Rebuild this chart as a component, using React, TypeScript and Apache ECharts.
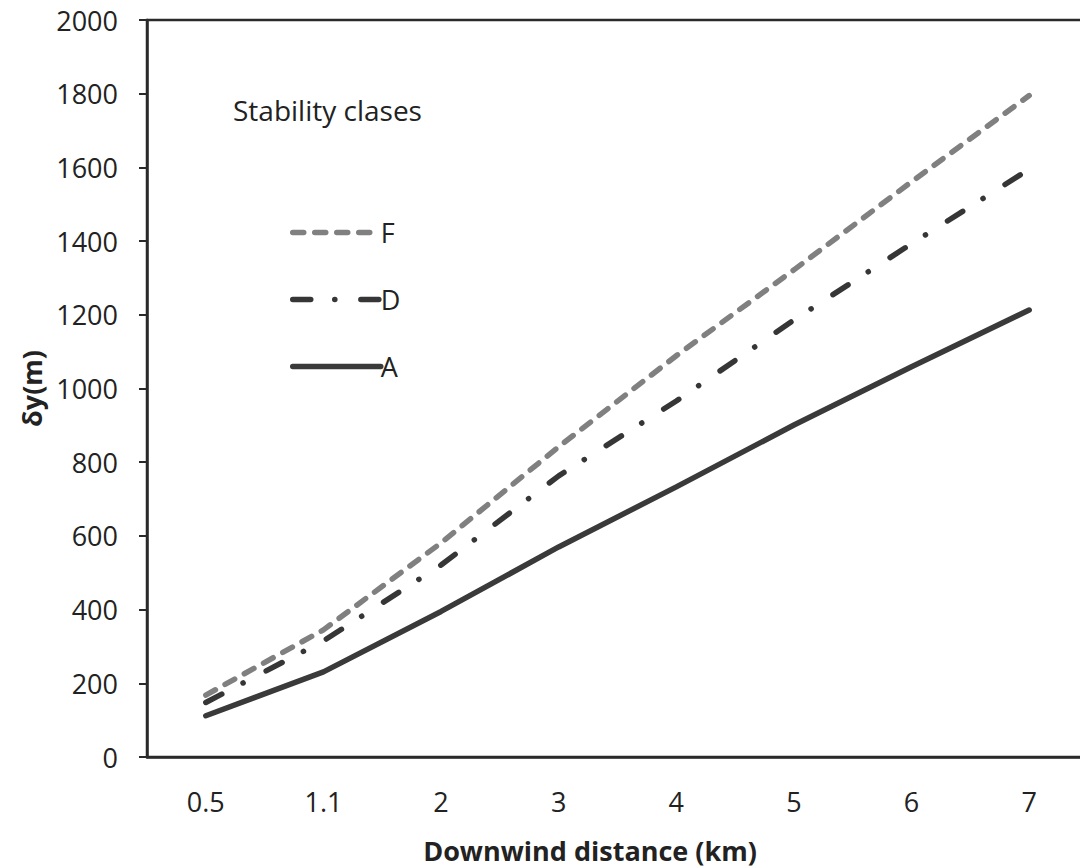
import React, { useEffect, useRef } from "react";
import * as echarts from "echarts";

const categories = ["0.5", "1.1", "2", "3", "4", "5", "6", "7"];
const seriesF = [168, 345, 581, 842, 1089, 1322, 1561, 1795];
const seriesD = [148, 315, 521, 763, 966, 1186, 1393, 1595];
const seriesA = [112, 231, 395, 570, 733, 901, 1059, 1213];
const yTicks = { min: 0, max: 2000, interval: 200 };

const FONT = "'Open Sans', Lato, sans-serif";
const FS = 27;

export default function App() {
  const ref = useRef<HTMLDivElement>(null);
  useEffect(() => {
    if (!ref.current) return;
    const chart = echarts.init(ref.current, undefined, { renderer: "svg" });
    chart.setOption({
      animation: false,
      backgroundColor: "#ffffff",
      textStyle: { fontFamily: FONT },
      grid: {
        left: 147,
        right: 0,
        top: 20,
        bottom: 111,
        show: true,
        borderColor: "#2a2a2a",
        borderWidth: 2.5,
      },
      legend: {
        show: true,
        orient: "vertical",
        left: 290,
        top: 219,
        padding: 0,
        itemWidth: 88,
        itemHeight: 14,
        itemGap: 40,
        data: ["F", "D", "A"],
        itemStyle: { opacity: 0 },
        lineStyle: { width: 5.5, cap: "round" },
        textStyle: { fontFamily: FONT, fontSize: FS, color: "#222", padding: [0, 0, 0, -5] },
      },
      graphic: [
        {
          type: "text",
          x: 233,
          y: 110,
          style: {
            text: "Stability clases",
            font: `28px ${FONT}`,
            fill: "#222",
            textVerticalAlign: "middle",
          },
        },
        {
          type: "text",
          x: 590,
          y: 850,
          style: {
            text: "Downwind distance (km)",
            font: `bold ${FS}px ${FONT}`,
            fill: "#222",
            textAlign: "center",
            textVerticalAlign: "middle",
          },
        },
      ],
      xAxis: {
        type: "category",
        data: categories,
        boundaryGap: true,
        axisLine: { show: true, lineStyle: { color: "#2a2a2a", width: 2.5 } },
        axisTick: { show: false },
        axisLabel: { fontFamily: FONT, fontSize: FS, color: "#222", margin: 31 },
        splitLine: { show: false },
      },
      yAxis: {
        type: "value",
        min: yTicks.min,
        max: yTicks.max,
        interval: yTicks.interval,
        name: "δy(m)",
        nameLocation: "middle",
        nameGap: 102,
        nameRotate: 90,
        nameTextStyle: { fontFamily: FONT, fontSize: FS, fontWeight: "bold", color: "#222" },
        axisLine: { show: true, lineStyle: { color: "#2a2a2a", width: 2.5 } },
        axisTick: { show: true, inside: false, length: 8, lineStyle: { color: "#2a2a2a", width: 2 } },
        axisLabel: {
          fontFamily: FONT,
          fontSize: FS,
          color: "#222",
          margin: 29,
          formatter: (v: number) => String(v),
        },
        splitLine: { show: false },
      },
      series: [
        {
          name: "F",
          type: "line",
          data: seriesF,
          symbol: "none",
          itemStyle: { color: "#808080" },
          lineStyle: { color: "#808080", width: 5.5, type: [11, 11], cap: "round" },
        },
        {
          name: "D",
          type: "line",
          data: seriesD,
          symbol: "none",
          itemStyle: { color: "#363636" },
          lineStyle: { color: "#363636", width: 5.5, type: [18, 24, 0.1, 26], cap: "round" },
        },
        {
          name: "A",
          type: "line",
          data: seriesA,
          symbol: "none",
          itemStyle: { color: "#3a3a3a" },
          lineStyle: { color: "#3a3a3a", width: 5.5, cap: "round" },
        },
      ],
    });
    return () => chart.dispose();
  }, []);
  return (
    <div
      ref={ref}
      style={{ position: "fixed", left: 0, top: 0, width: 1088, height: 868, background: "#fff" }}
    />
  );
}
